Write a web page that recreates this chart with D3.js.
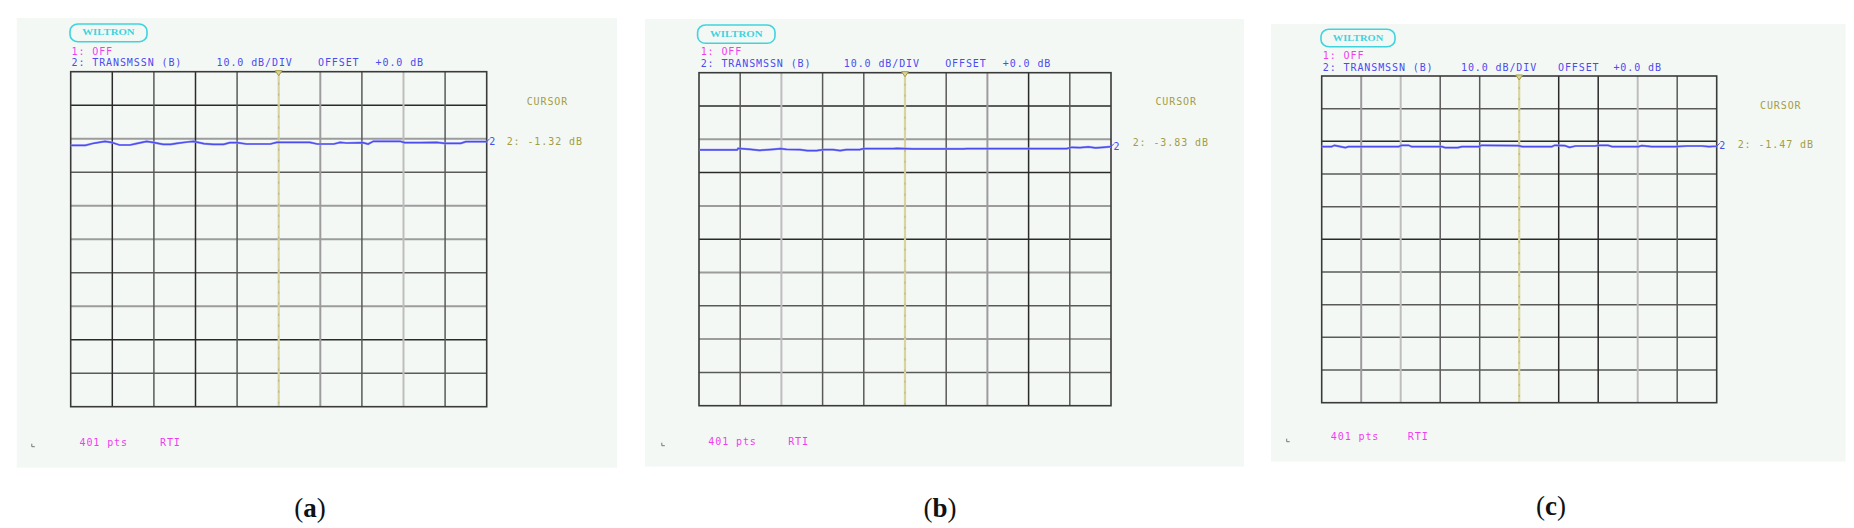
<!DOCTYPE html>
<html>
<head>
<meta charset="utf-8">
<script src="https://cdn.jsdelivr.net/npm/d3@7"></script>
<style>
  html, body { margin: 0; padding: 0; background: #ffffff; }
  svg { display: block; }
</style>
</head>
<body>
<svg id="chart" width="1854" height="528"></svg>
<script>
// ---------------- DATA ----------------
const panelLetters = ["a", "b", "c"];
const cursorReadings = ["-1.32", "-3.83", "-1.47"];
const pointsLabel = "401 pts";
const refLevelDb = 20;        // top graticule
const dbPerDiv = 10;          // 10.0 dB/DIV
const gridDb = [20, 10, 0, -10, -20, -30, -40, -50, -60, -70, -80];
const gridPts = [0, 40, 80, 120, 160, 200, 240, 280, 320, 360, 400];
const cursorPoint = 200;

// trace (a): point index / transmission dB
const traceIdxA = [0, 14, 22, 33, 39, 47, 57, 63, 73, 79, 89, 96, 102, 112, 118, 128, 137, 147, 153, 160, 169, 192, 198, 230, 237, 253, 259, 265, 281, 286, 291, 317, 321, 336, 352, 360, 375, 380, 400];
const traceDbA  = [-1.97, -1.97, -1.37, -0.78, -1.08, -1.88, -1.88, -1.48, -0.78, -1.08, -1.68, -1.68, -1.38, -0.98, -0.78, -1.48, -1.68, -1.68, -1.18, -1.18, -1.58, -1.58, -1.08, -1.08, -1.58, -1.58, -1.08, -1.28, -1.18, -1.58, -0.78, -0.78, -1.18, -1.18, -1.08, -1.37, -1.37, -0.90, -0.90];

// trace (b)
const traceIdxB = [0, 37, 38, 50, 59, 72, 79, 85, 98, 105, 114, 121, 130, 137, 143, 156, 160, 189, 192, 208, 257, 260, 341, 357, 362, 370, 378, 385, 392, 400];
const traceDbB  = [-3.2, -3.2, -2.7, -3.0, -3.3, -3.0, -2.8, -3.0, -3.1, -3.4, -3.4, -3.1, -3.1, -3.4, -3.1, -3.1, -2.8, -2.8, -2.7, -2.9, -2.9, -2.8, -2.8, -2.8, -2.4, -2.5, -2.3, -2.6, -2.4, -2.2];

// trace (c)
const traceIdxC = [0, 10, 13, 19, 24, 27, 78, 81, 88, 91, 122, 125, 138, 142, 159, 162, 199, 203, 233, 236, 246, 251, 257, 277, 280, 290, 294, 321, 324, 334, 358, 370, 385, 392, 400];
const traceDbC  = [-1.63, -1.63, -1.22, -1.63, -1.94, -1.63, -1.63, -1.22, -1.22, -1.63, -1.63, -1.94, -1.94, -1.63, -1.63, -1.22, -1.30, -1.63, -1.63, -1.22, -1.30, -1.84, -1.43, -1.43, -1.22, -1.22, -1.63, -1.63, -1.30, -1.63, -1.63, -1.43, -1.43, -1.63, -1.50];

const traces = [
  traceIdxA.map((p, i) => ({ p, db: traceDbA[i] })),
  traceIdxB.map((p, i) => ({ p, db: traceDbB[i] })),
  traceIdxC.map((p, i) => ({ p, db: traceDbC[i] }))
];

// ---------------- LAYOUT / STYLE ----------------
const layout = [
  { bg: [16.7, 18, 617, 467.7], grid: [70.7, 71.7, 486.7, 406.7], logo: [70, 24, 147, 41.7],
    off: [71.5, 51.7], l2y: 62.7, segX: [71.5, 216.6, 318, 375.6],
    cur: [526.7, 101.7], val: [506.7, 141.7], bot: [79.5, 160, 442.3], L: [31.8, 446.7], cap: [310, 508],
    vShade: "kdkdcgdld", hShade: "kgdggdgkd" },
  { bg: [645, 19, 1244, 466.7], grid: [699, 72.7, 1111, 405.7], logo: [697.6, 25, 775, 43.3],
    off: [700.7, 51.7], l2y: 63.3, segX: [700.7, 843.8, 945.2, 1002.8],
    cur: [1155.4, 101.7], val: [1132.7, 142.3], bot: [708.3, 788.2, 441], L: [661.8, 445.7], cap: [940, 508],
    vShade: "dlddcdgkd", hShade: "kgkgkgdgd" },
  { bg: [1271, 24, 1845.7, 461.7], grid: [1321.7, 76, 1716.7, 402.7], logo: [1321, 29.3, 1395, 46.7],
    off: [1322.8, 55], l2y: 67.7, segX: [1322.8, 1461, 1558, 1613.4],
    cur: [1760, 105.7], val: [1737.7, 144.3], bot: [1330.8, 1407.8, 436.7], L: [1286.7, 441.7], cap: [1551, 506.7],
    vShade: "glddckkld", hShade: "dkddkdddd" }
];
const shadeColor = { k: "#2a2a2a", d: "#5a5a5a", g: "#9c9c9c", l: "#bdbdbd" };
const shadeWidth = { k: 1.5, d: 1.5, g: 2, l: 2 };

const BLUE = "#4b4bf0", MAGENTA = "#f03cf0", OLIVE = "#a39d45", CYAN = "#3fd3de";
const MONO = "'DejaVu Sans Mono', 'Liberation Mono', monospace";

const svg = d3.select("#chart");

layout.forEach((L, i) => {
  const g = svg.append("g");
  const [gx0, gy0, gx1, gy1] = L.grid;
  const x = d3.scaleLinear().domain([0, 400]).range([gx0, gx1]);
  const y = d3.scaleLinear().domain([refLevelDb, refLevelDb - dbPerDiv * 10]).range([gy0, gy1]);

  // background
  g.append("rect").attr("x", L.bg[0]).attr("y", L.bg[1])
    .attr("width", L.bg[2] - L.bg[0]).attr("height", L.bg[3] - L.bg[1])
    .attr("fill", "#f4f8f5");

  // logo
  const [lx0, ly0, lx1, ly1] = L.logo;
  g.append("rect").attr("x", lx0).attr("y", ly0).attr("width", lx1 - lx0).attr("height", ly1 - ly0)
    .attr("rx", 8).attr("ry", 7).attr("fill", "none").attr("stroke", CYAN).attr("stroke-width", 1.6);
  g.append("text").attr("x", (lx0 + lx1) / 2).attr("y", (ly0 + ly1) / 2 + 2.6)
    .attr("text-anchor", "middle").attr("font-family", "'Liberation Serif', serif")
    .attr("font-weight", "bold").attr("font-size", 7.5).attr("fill", CYAN)
    .attr("textLength", (lx1 - lx0) * 0.68).attr("lengthAdjust", "spacingAndGlyphs")
    .text("WILTRON");

  const txt = (tx, ty, s, color) => g.append("text").attr("x", tx).attr("y", ty + 3.6)
    .attr("font-family", MONO).attr("font-size", 10).attr("letter-spacing", 0.9)
    .attr("fill", color).text(s);

  txt(L.off[0], L.off[1], "1: OFF", MAGENTA);
  const seg = ["2: TRANSMSSN (B)", dbPerDiv.toFixed(1) + " dB/DIV", "OFFSET", "+0.0 dB"];
  seg.forEach((s, k) => txt(L.segX[k], L.l2y, s, BLUE));

  // gridlines (horizontal)
  gridDb.forEach((db, k) => {
    if (k === 0 || k === gridDb.length - 1) return;
    const c = L.hShade[k - 1];
    g.append("line").attr("x1", gx0).attr("x2", gx1).attr("y1", y(db)).attr("y2", y(db))
      .attr("stroke", shadeColor[c]).attr("stroke-width", shadeWidth[c]);
  });
  // gridlines (vertical)
  gridPts.forEach((p, k) => {
    if (k === 0 || k === gridPts.length - 1) return;
    const c = L.vShade[k - 1];
    if (c === "c") return;
    g.append("line").attr("x1", x(p)).attr("x2", x(p)).attr("y1", gy0).attr("y2", gy1)
      .attr("stroke", shadeColor[c]).attr("stroke-width", shadeWidth[c]);
  });
  // cursor line
  g.append("line").attr("x1", x(cursorPoint)).attr("x2", x(cursorPoint)).attr("y1", gy0).attr("y2", gy1)
    .attr("stroke", "#d9d49b").attr("stroke-width", 2.2);
  g.append("line").attr("x1", x(cursorPoint)).attr("x2", x(cursorPoint)).attr("y1", gy0).attr("y2", gy1)
    .attr("stroke", "#a8a898").attr("stroke-width", 0.8).attr("stroke-dasharray", "2 9");
  // border
  g.append("rect").attr("x", gx0).attr("y", gy0).attr("width", gx1 - gx0).attr("height", gy1 - gy0)
    .attr("fill", "none").attr("stroke", "#3a3a3a").attr("stroke-width", 1.6);
  // cursor marker triangle
  const cx = x(cursorPoint);
  g.append("path").attr("d", `M${cx - 3.5},${gy0 - 1}L${cx + 3.5},${gy0 - 1}L${cx},${gy0 + 4}Z`)
    .attr("fill", "#d9d49b").attr("stroke", OLIVE).attr("stroke-width", 1);

  // trace
  const line = d3.line().x(d => x(d.p)).y(d => y(d.db));
  g.append("path").datum(traces[i]).attr("d", line)
    .attr("fill", "none").attr("stroke", "#8f8ffa").attr("stroke-width", 2.2);
  g.append("path").datum(traces[i]).attr("d", line)
    .attr("fill", "none").attr("stroke", BLUE).attr("stroke-width", 1.2);

  // trace end marker
  const last = traces[i][traces[i].length - 1];
  const ex = x(last.p), ey = y(last.db);
  g.append("path").attr("d", `M${ex},${ey}L${ex + 3},${ey - 3}`).attr("stroke", BLUE).attr("stroke-width", 1).attr("fill", "none");
  g.append("text").attr("x", ex + 2.5).attr("y", ey + 3)
    .attr("font-family", MONO).attr("font-size", 10).attr("fill", BLUE).text("2");

  // cursor readout
  txt(L.cur[0], L.cur[1], "CURSOR", OLIVE);
  txt(L.val[0], L.val[1], "2: " + cursorReadings[i] + " dB", OLIVE);

  // bottom texts
  txt(L.bot[0], L.bot[2], pointsLabel, MAGENTA);
  txt(L.bot[1], L.bot[2], "RTI", MAGENTA);
  g.append("path").attr("d", `M${L.L[0]},${L.L[1] - 3}L${L.L[0]},${L.L[1]}L${L.L[0] + 3},${L.L[1]}`)
    .attr("stroke", "#777").attr("stroke-width", 1).attr("fill", "none");

  // caption
  const cap = g.append("text").attr("x", L.cap[0]).attr("y", L.cap[1] + 8.5)
    .attr("text-anchor", "middle").attr("font-family", "'Liberation Serif', 'Times New Roman', serif")
    .attr("font-size", 27).attr("fill", "#111");
  cap.append("tspan").text("(");
  cap.append("tspan").attr("font-weight", "bold").text(panelLetters[i]);
  cap.append("tspan").text(")");
});
</script>
</body>
</html>
